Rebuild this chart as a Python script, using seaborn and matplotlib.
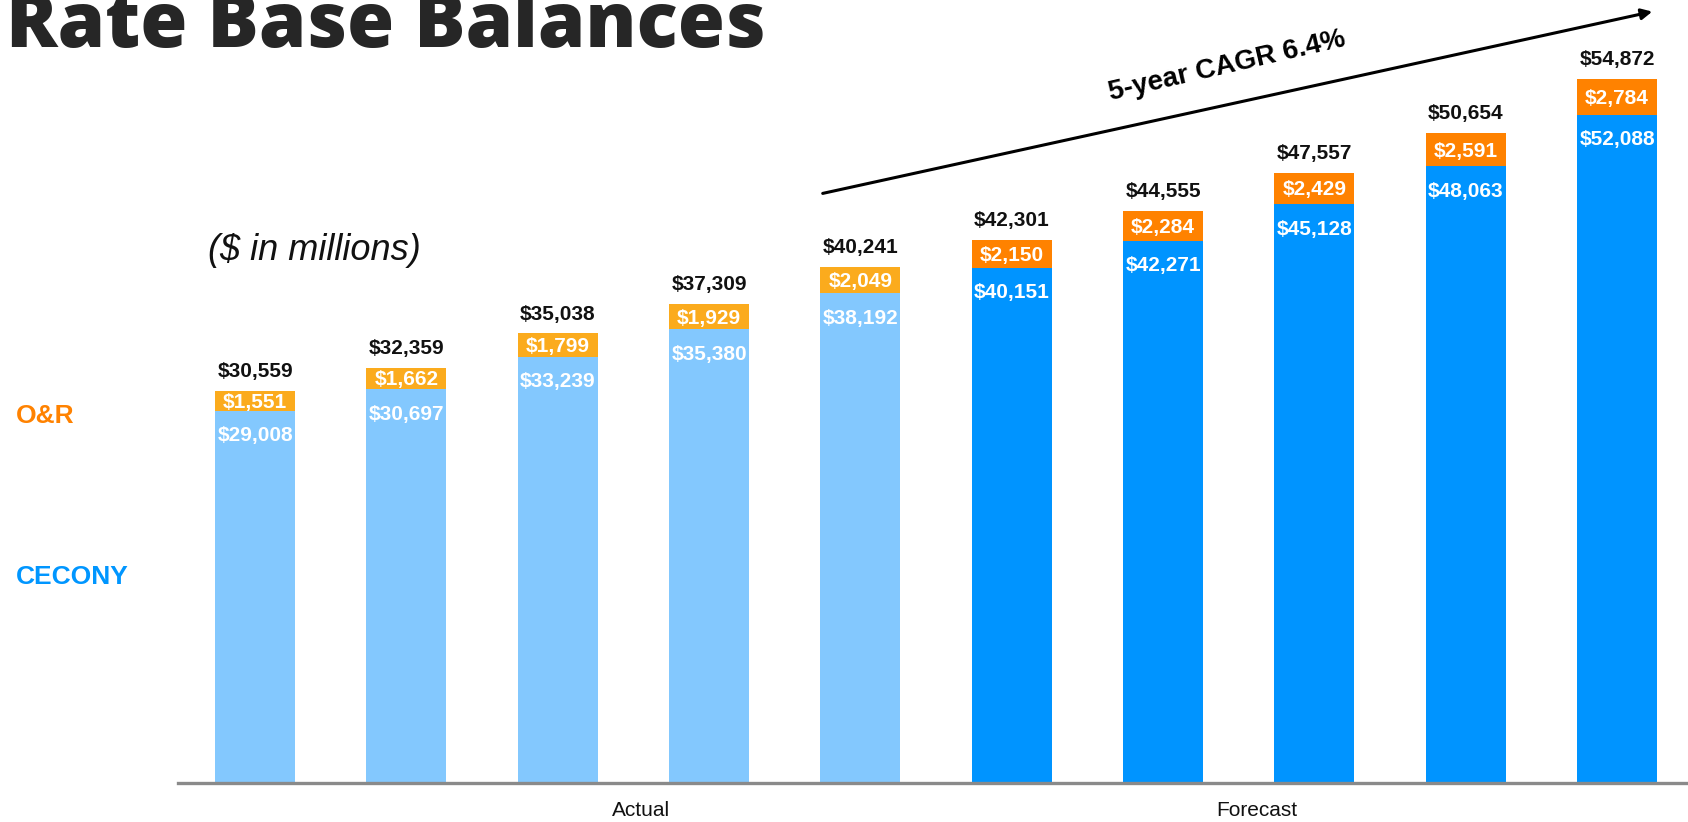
import numpy as np
import pandas as pd
import matplotlib
matplotlib.use("Agg")
import matplotlib.pyplot as plt
import seaborn as sns

# Rate base values ($ millions), one bar per year slot (no year labels on the chart)
bar_ids = list(range(10))
period = ["Actual"] * 5 + ["Forecast"] * 5
cecony = [29008, 30697, 33239, 35380, 38192, 40151, 42271, 45128, 48063, 52088]
orr = [1551, 1662, 1799, 1929, 2049, 2150, 2284, 2429, 2591, 2784]
total = [30559, 32359, 35038, 37309, 40241, 42301, 44555, 47557, 50654, 54872]
period_labels = ["Actual", "Forecast"]
period_label_x = [2.55, 6.62]

df = pd.DataFrame({"slot": bar_ids, "period": period, "cecony": cecony, "orr": orr, "total": total})

sns.set_style("white")
plt.rcParams["font.family"] = ["Liberation Sans", "DejaVu Sans"]

fig = plt.figure(figsize=(16.88, 8.22), dpi=100)
ax = fig.add_axes([178 / 1688, 39 / 822, 1 - 178 / 1688, 783 / 822])

orr_pal = {"Actual": "#FBAB1D", "Forecast": "#FF8200"}
ce_pal = {"Actual": "#83C8FE", "Forecast": "#0094FF"}

# stacked bars: draw the totals in O&R colour, then CECONY over them
sns.barplot(data=df, x="slot", y="total", hue="period", palette=orr_pal, saturation=1,
            dodge=False, width=0.53, linewidth=0, legend=False, ax=ax)
sns.barplot(data=df, x="slot", y="cecony", hue="period", palette=ce_pal, saturation=1,
            dodge=False, width=0.53, linewidth=0, legend=False, ax=ax)

ax.set_xlim(-0.509, 9.469)
ax.set_ylim(0, 61030)
ax.set_xticks([])
ax.set_yticks([])
ax.set_xlabel("")
ax.set_ylabel("")
sns.despine(ax=ax, left=True)
ax.spines["bottom"].set_color("#8a8a8a")
ax.spines["bottom"].set_linewidth(2.4)

for i in bar_ids:
    ax.annotate(f"${total[i]:,}", (i, total[i]), xytext=(0, 10), textcoords="offset points",
                ha="center", va="baseline", fontsize=15, fontweight="bold", color="#111111")
    ax.annotate(f"${orr[i]:,}", (i, cecony[i] + orr[i] / 2), xytext=(0, -1), textcoords="offset points",
                ha="center", va="center", fontsize=15, fontweight="bold", color="white")
    ax.annotate(f"${cecony[i]:,}", (i, cecony[i]), xytext=(0, -18), textcoords="offset points",
                ha="center", va="center", fontsize=15, fontweight="bold", color="white")

for lab, xp in zip(period_labels, period_label_x):
    ax.text(xp, -0.0345, lab, transform=ax.get_xaxis_transform(), ha="center", va="center",
            fontsize=15, color="#111111", clip_on=False)

# title, cut off at the left and top edges like the slide
fig.text(766 / 1688, 1 - 47 / 822, "Rate Base Balances", ha="right", va="baseline",
         fontsize=55, fontweight=800, family=["Open Sans", "Liberation Sans"], color="#262626")
fig.text(208 / 1688, 1 - 251 / 822, "($ in millions)", ha="left", va="center",
         fontsize=26, style="italic", color="#111111")
fig.text(16 / 1688, 1 - 416 / 822, "O&R", ha="left", va="center",
         fontsize=19, fontweight="bold", color="#FF8200")
fig.text(16 / 1688, 1 - 577 / 822, "CECONY", ha="left", va="center",
         fontsize=19, fontweight="bold", color="#0096FF")

# growth arrow
ax.annotate("", xy=(1655 / 1688, 1 - 11 / 822), xytext=(820 / 1688, 1 - 194 / 822),
            xycoords="figure fraction", textcoords="figure fraction",
            arrowprops=dict(arrowstyle="-|>", color="black", lw=2.2, mutation_scale=16))
fig.text(1227 / 1688, 1 - 66 / 822, "5-year CAGR 6.4%", ha="center", va="center",
         rotation=13, rotation_mode="anchor", fontsize=20, fontweight="bold", color="black")

fig.savefig("out.png", dpi=100)
